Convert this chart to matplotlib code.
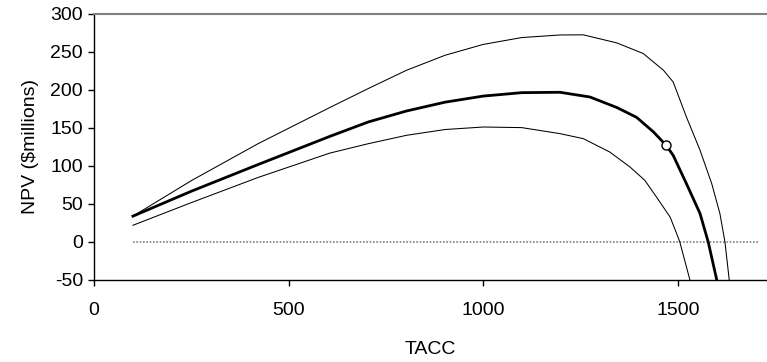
import matplotlib
matplotlib.use("Agg")
import matplotlib.pyplot as plt

plt.rcParams['font.family'] = ['Liberation Sans', 'DejaVu Sans']
plt.rcParams['axes.unicode_minus'] = False

# Curva central (valor esperado)
x_mid = [100, 251, 422, 606, 705, 803, 902, 1000, 1099, 1197, 1274, 1343, 1394,
         1437, 1470, 1488, 1522, 1557, 1578, 1600]
y_mid = [34, 67, 102, 139, 158, 172.4, 184, 192, 196.5, 197, 190.8, 177, 164,
         145, 127.2, 114, 76.8, 37.4, 0, -50]

# Curva superior
x_up = [100, 251, 422, 606, 705, 803, 902, 1000, 1099, 1197, 1257, 1343, 1411,
        1463, 1488, 1522, 1557, 1587, 1608, 1621, 1632]
y_up = [34, 81, 129.5, 177, 202, 226, 245.7, 260, 269, 272.4, 272.6, 262, 248,
        226, 210.5, 164.5, 120.7, 76.8, 37.4, 0, -50]

# Curva inferior
x_low = [100, 251, 422, 606, 705, 803, 902, 1000, 1099, 1197, 1257, 1325, 1377,
         1415, 1445, 1480, 1497, 1505, 1531]
y_low = [22, 52, 85, 117, 129.4, 140.4, 148, 151.3, 150.5, 142.6, 136, 118.4, 98.7,
         81.2, 59.2, 32.9, 11, 0, -50]

# Punto marcado y linea de cero
x_pt = [1470]
y_pt = [127.2]
x_zero = [100, 1706]
y_zero = [0, 0]

fig = plt.figure(figsize=(7.67, 3.62), dpi=100)
ax = fig.add_axes([94 / 767, 82 / 362, 1 - 94 / 767, 266 / 362])

ax.plot(x_zero, y_zero, color='#808080', linestyle=(0, (1, 1)), linewidth=1.2)
ax.plot(x_up, y_up, color='black', linewidth=0.75)
ax.plot(x_low, y_low, color='black', linewidth=0.75)
ax.plot(x_mid, y_mid, color='black', linewidth=2.0)
ax.plot(x_pt, y_pt, marker='o', markersize=6.5, markerfacecolor='white',
        markeredgecolor='black', markeredgewidth=1.0, linestyle='none', zorder=5)

ax.set_xlim(0, 1729)
ax.set_ylim(-50, 300)
ax.set_xticks([0, 500, 1000, 1500])
ax.set_yticks(range(-50, 301, 50))

ax.spines['right'].set_visible(False)
ax.spines['top'].set_color('#808080')
ax.spines['top'].set_linewidth(1.5)
ax.spines['left'].set_linewidth(1.0)
ax.spines['bottom'].set_linewidth(1.0)

ax.tick_params(axis='both', direction='out', length=4, width=1, labelsize=14)
ax.tick_params(axis='x', pad=12)
ax.tick_params(axis='y', pad=4)

ax.set_xlabel("TACC", fontsize=14, labelpad=16)
ax.set_ylabel("NPV ($millions)", fontsize=14, labelpad=8)

fig.savefig("out.png", dpi=100)
